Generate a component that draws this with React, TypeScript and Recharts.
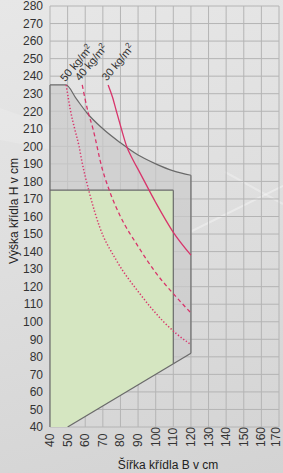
import React from "react";
import {
  ComposedChart,
  Area,
  Line,
  XAxis,
  YAxis,
  CartesianGrid,
  ReferenceLine,
  ReferenceDot,
  Label,
} from "recharts";

const xTicks = [40, 50, 60, 70, 80, 90, 100, 110, 120, 130, 140, 150, 160, 170];
const yTicks = [40, 50, 60, 70, 80, 90, 100, 110, 120, 130, 140, 150, 160, 170, 180, 190, 200, 210, 220, 230, 240, 250, 260, 270, 280];

// gray envelope: upper curve and lower diagonal
const envX = [40, 49, 55, 61, 70, 80, 90, 100, 110, 120];
const envTop = [235, 235, 227, 219, 210, 202, 195, 190, 186, 183.5];
const envBottom = [40, 40, 43, 46.6, 52, 58, 64, 70, 76, 82];

// green region
const greenX = [40, 50, 110];
const greenTop = [175, 175, 175];
const greenBottom = [40, 40, 76];

// diagonal lower edge
const diagX = [50, 120];
const diagY = [40, 82];

// 30 kg/m2 (solid)
const k30X = [73, 75.5, 77.7, 80.5, 83.5, 87, 91, 100, 110, 120];
const k30Y = [235, 228, 220, 210, 200, 192.5, 185, 168, 151, 138];

// 40 kg/m2 (dashed)
const k40X = [58.3, 61.5, 64.4, 66.7, 68.2, 74, 80, 90, 100, 110, 120];
const k40Y = [235, 220, 210, 200, 193, 174, 160, 143, 128, 116, 105];

// 50 kg/m2 (dotted)
const k50X = [49.2, 51.7, 54, 56.5, 58, 62.5, 68.2, 77.7, 91, 104, 112, 120];
const k50Y = [235, 220, 210, 200, 192, 173, 154, 135, 116, 100.5, 93, 87];

const labels = [
  { x: 48.6, y: 236.5, text: "50 kg/m" },
  { x: 57, y: 237, text: "40 kg/m" },
  { x: 72.2, y: 237, text: "30 kg/m" },
];

const envData = envX.map((x, i) => ({ x, r: [envBottom[i], envTop[i]], top: envTop[i] }));
const greenData = greenX.map((x, i) => ({ x, r: [greenBottom[i], greenTop[i]] }));
const diagData = diagX.map((x, i) => ({ x, y: diagY[i] }));
const k30 = k30X.map((x, i) => ({ x, y: k30Y[i] }));
const k40 = k40X.map((x, i) => ({ x, y: k40Y[i] }));
const k50 = k50X.map((x, i) => ({ x, y: k50Y[i] }));

const FONT = "'Liberation Sans', Arial, sans-serif";
const RED = "#d8356b";
const OUTLINE = "#6a6a6a";

const XTick = (props: any) => {
  const { x, y, payload } = props;
  const bx = Math.min(x + 4, 279.5);
  return (
    <text
      transform={`translate(${bx},${y + 20}) rotate(-90)`}
      x={0}
      y={0}
      textAnchor="start"
      fontSize={12}
      fill="#333"
      fontFamily={FONT}
    >
      {payload.value}
    </text>
  );
};

const makeLabelShape = (text: string) => (p: any) => {
  const { cx, cy } = p;
  return (
    <text
      x={cx}
      y={cy}
      transform={`rotate(-50 ${cx} ${cy})`}
      fontSize={11}
      fill="#333"
      fontFamily={FONT}
    >
      {text}
      <tspan fontSize={8} dy={-4}>2</tspan>
    </text>
  );
};

export default function App() {
  return (
    <div
      style={{
        position: "absolute",
        left: 0,
        top: 0,
        width: 283,
        height: 473,
        background: "linear-gradient(165deg, #e7e7e7 0%, #dedede 50%, #d3d3d3 100%)",
        overflow: "hidden",
      }}
    >
      <svg
        width={283}
        height={473}
        style={{ position: "absolute", left: 0, top: 0 }}
      >
        <polygon points="0,108 52,126 52,150 0,140" fill="#ffffff" opacity={0.15} />
        <line x1={190} y1={232} x2={283} y2={186} stroke="#ffffff" strokeWidth={2} opacity={0.35} />
        <line x1={225} y1={172} x2={283} y2={204} stroke="#ffffff" strokeWidth={2} opacity={0.28} />
      </svg>
      <div style={{ position: "absolute", left: 0, top: 0 }}>
        <ComposedChart
          width={283}
          height={473}
          margin={{ top: 6, right: 4, left: 0, bottom: 0 }}
        >
          <XAxis
            dataKey="x"
            type="number"
            domain={[40, 170]}
            ticks={xTicks}
            interval={0}
            tickSize={0}
            tickMargin={0}
            tickLine={false}
            axisLine={false}
            height={46}
            tick={<XTick />}
            allowDataOverflow
          >
            <Label
              content={() => (
                <text x={168} y={469} textAnchor="middle" fontSize={12} fill="#222" fontFamily={FONT}>
                  Šířka křídla B v cm
                </text>
              )}
            />
          </XAxis>
          <YAxis
            type="number"
            domain={[40, 280]}
            ticks={yTicks}
            interval={0}
            tickSize={5}
            tickMargin={2}
            tickLine={false}
            axisLine={false}
            width={50}
            tick={{ fontSize: 12, fill: "#333", fontFamily: FONT }}
            allowDataOverflow
          >
            <Label
              content={() => (
                <text
                  x={18}
                  y={211}
                  transform="rotate(-90 18 211)"
                  textAnchor="middle"
                  fontSize={12}
                  fill="#222"
                  fontFamily={FONT}
                >
                  Výška křídla H v cm
                </text>
              )}
            />
          </YAxis>
          <Area
            data={envData}
            dataKey="r"
            type="linear"
            fill="#cbcbcb"
            fillOpacity={0.7}
            stroke="none"
            isAnimationActive={false}
          />
          <Area
            data={greenData}
            dataKey="r"
            type="linear"
            fill="#d5e6c1"
            fillOpacity={1}
            stroke="none"
            isAnimationActive={false}
          />
          <CartesianGrid stroke="#b4b4b4" strokeWidth={1} />
          <Line
            data={envData}
            dataKey="top"
            type="monotone"
            stroke={OUTLINE}
            strokeWidth={1.2}
            dot={false}
            isAnimationActive={false}
          />
          <Line
            data={diagData}
            dataKey="y"
            type="linear"
            stroke={OUTLINE}
            strokeWidth={1.2}
            dot={false}
            isAnimationActive={false}
          />
          <ReferenceLine segment={[{ x: 40, y: 40 }, { x: 40, y: 235 }]} stroke={OUTLINE} strokeWidth={1.2} />
          <ReferenceLine segment={[{ x: 120, y: 82 }, { x: 120, y: 183.5 }]} stroke={OUTLINE} strokeWidth={1.2} />
          <ReferenceLine segment={[{ x: 40, y: 175 }, { x: 110, y: 175 }]} stroke={OUTLINE} strokeWidth={1.2} />
          <ReferenceLine segment={[{ x: 110, y: 76 }, { x: 110, y: 175 }]} stroke={OUTLINE} strokeWidth={1.2} />
          <Line
            data={k30}
            dataKey="y"
            type="monotone"
            stroke={RED}
            strokeWidth={1.3}
            dot={false}
            isAnimationActive={false}
          />
          <Line
            data={k40}
            dataKey="y"
            type="monotone"
            stroke={RED}
            strokeWidth={1.3}
            strokeDasharray="4 3"
            dot={false}
            isAnimationActive={false}
          />
          <Line
            data={k50}
            dataKey="y"
            type="monotone"
            stroke={RED}
            strokeWidth={1.5}
            strokeDasharray="1.3 2"
            dot={false}
            isAnimationActive={false}
          />
          {labels.map((l) => (
            <ReferenceDot
              key={l.text + l.x}
              x={l.x}
              y={l.y}
              r={0}
              shape={makeLabelShape(l.text)}
            />
          ))}
        </ComposedChart>
      </div>
    </div>
  );
}
